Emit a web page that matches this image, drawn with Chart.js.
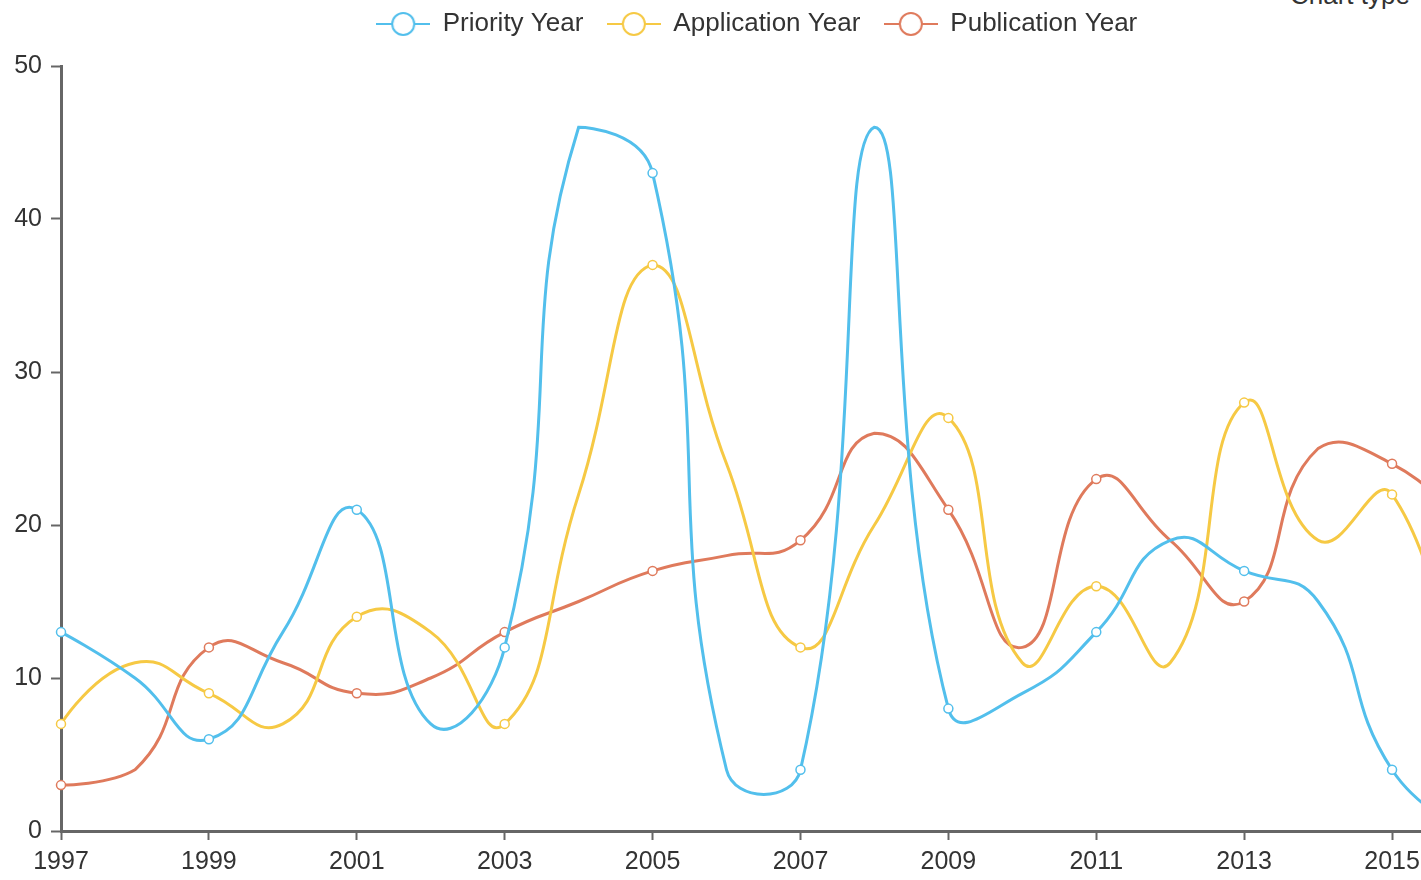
<!DOCTYPE html>
<html>
<head>
<meta charset="utf-8">
<script src="https://cdn.jsdelivr.net/npm/chart.js@4/dist/chart.umd.min.js"></script>
<style>
  html, body { margin: 0; padding: 0; overflow: hidden; background: #fff; width: 1421px; height: 880px; }
  #wrap { position: absolute; left: 0; top: -13px; width: 1514px; height: 897px; }
  #ctype { position: absolute; left: 1290px; top: -20px; font: 26px "Liberation Sans", Arial, sans-serif; line-height: 30px; color: #333; white-space: nowrap; }
</style>
</head>
<body>
<div id="ctype">Chart type</div>
<div id="wrap"><canvas id="c"></canvas></div>
<script>
const years = ['1997','1998','1999','2000','2001','2002','2003','2004','2005','2006','2007','2008','2009','2010','2011','2012','2013','2014','2015','2016'];
const priorityYear    = [13, 10, 6, 13, 21, 7, 12, 46, 43, 4, 4, 46, 8, 9, 13, 19, 17, 15, 4, 0];
const applicationYear = [7, 11, 9, 7, 14, 13, 7, 22, 37, 24, 12, 20, 27, 11, 16, 11, 28, 19, 22, 5];
const publicationYear = [3, 4, 12, 11, 9, 10, 13, 15, 17, 18, 19, 26, 21, 12, 23, 19, 15, 25, 24, 20];
const seriesNames = ['Priority Year', 'Application Year', 'Publication Year'];
const yTicks = [0, 10, 20, 30, 40, 50];

const colors = ['#52bfec', '#f6c944', '#df7a5c'];
const FONT = '"Liberation Sans", Arial, Helvetica, sans-serif';

function legendIcon(color) {
  const c = document.createElement('canvas');
  c.width = 54; c.height = 26;
  const g = c.getContext('2d');
  g.strokeStyle = color; g.lineWidth = 2;
  g.beginPath(); g.moveTo(0, 13); g.lineTo(54, 13); g.stroke();
  g.beginPath(); g.arc(27, 13, 11, 0, Math.PI * 2);
  g.fillStyle = '#fff'; g.fill(); g.stroke();
  return c;
}
const icons = colors.map(legendIcon);

// ECharts-4 style smoothing: control points clamped to the bounding box of the series
const echartsSmooth = {
  id: 'echartsSmooth',
  afterLayout(chart) {
    // centre the legend on the original container rather than on the plot
    const l = chart.legend;
    if (l) { l.left += 24; l.right += 24; }
  },
  beforeDatasetDraw(chart, args) {
    const meta = args.meta;
    const line = meta.dataset;
    if (!line) return;
    line.updateControlPoints(chart.chartArea, 'x');
    const pts = meta.data;
    const n = pts.length;
    const smooth = 0.5;
    let minX = Infinity, minY = Infinity, maxX = -Infinity, maxY = -Infinity;
    pts.forEach(p => { minX = Math.min(minX, p.x); maxX = Math.max(maxX, p.x); minY = Math.min(minY, p.y); maxY = Math.max(maxY, p.y); });
    const cx = v => Math.min(maxX, Math.max(minX, v));
    const cy = v => Math.min(maxY, Math.max(minY, v));
    for (let i = 0; i < n; i++) {
      const p = pts[i];
      if (i === 0 || i === n - 1) {
        p.cp1x = p.x; p.cp1y = p.y; p.cp2x = p.x; p.cp2y = p.y;
        continue;
      }
      const a = pts[i - 1], b = pts[i + 1];
      const vx = (b.x - a.x) * smooth, vy = (b.y - a.y) * smooth;
      let d0 = Math.hypot(p.x - a.x, p.y - a.y);
      let d1 = Math.hypot(b.x - p.x, b.y - p.y);
      const s = d0 + d1;
      if (s) { d0 /= s; d1 /= s; }
      p.cp1x = cx(p.x - vx * d0); p.cp1y = cy(p.y - vy * d0);
      p.cp2x = cx(p.x + vx * d1); p.cp2y = cy(p.y + vy * d1);
    }
  }
};

const seriesData = [priorityYear, applicationYear, publicationYear];
const datasets = seriesData.map((d, i) => ({
  label: seriesNames[i],
  data: d,
  borderColor: colors[i],
  backgroundColor: colors[i],
  borderWidth: 3,
  tension: 0.5,
  fill: false,
  pointRadius: d.map((_, k) => (k % 2 === 0 ? 4.5 : 0)),
  pointHoverRadius: d.map((_, k) => (k % 2 === 0 ? 4.5 : 0)),
  pointBackgroundColor: '#fff',
  pointBorderColor: colors[i],
  pointBorderWidth: 1.5
}));

new Chart(document.getElementById('c'), {
  type: 'line',
  data: { labels: years, datasets },
  plugins: [echartsSmooth],
  options: {
    responsive: true,
    maintainAspectRatio: false,
    animation: false,
    events: [],
    layout: { padding: { left: 0, right: 48, top: 0, bottom: 0 } },
    plugins: {
      tooltip: { enabled: false },
      title: { display: true, text: '', padding: 0, font: { size: 19, lineHeight: 1 } },
      legend: {
        position: 'top',
        weight: 3000,
        labels: {
          usePointStyle: true,
          pointStyleWidth: 53,
          padding: 24,
          color: '#333',
          font: { family: FONT, size: 26 },
          generateLabels: chart => chart.data.datasets.map((ds, i) => ({
            text: ds.label,
            pointStyle: icons[i],
            datasetIndex: i,
            hidden: false,
            fontColor: '#333',
            lineWidth: 0,
            strokeStyle: 'rgba(0,0,0,0)',
            fillStyle: 'rgba(0,0,0,0)'
          }))
        }
      }
    },
    scales: {
      x: {
        type: 'category',
        offset: false,
        grid: { display: true, drawOnChartArea: false, drawTicks: true, tickLength: 9, tickColor: '#666', tickWidth: 2 },
        border: { display: true, color: '#666', width: 3 },
        ticks: {
          autoSkip: false, maxRotation: 0, minRotation: 0, padding: 7,
          color: '#333', font: { family: FONT, size: 25 },
          callback: (v, idx) => (idx % 2 === 0 ? years[idx] : null)
        }
      },
      y: {
        min: 0, max: 50,
        afterFit: s => { s.width = 61; },
        afterBuildTicks: s => { s.ticks = yTicks.map(v => ({ value: v })); },
        grid: { display: true, drawOnChartArea: false, drawTicks: true, tickLength: 10, tickColor: '#666', tickWidth: 2 },
        border: { display: true, color: '#666', width: 3 },
        ticks: { padding: 9, color: '#333', font: { family: FONT, size: 25 } }
      }
    }
  }
});
</script>
</body>
</html>
